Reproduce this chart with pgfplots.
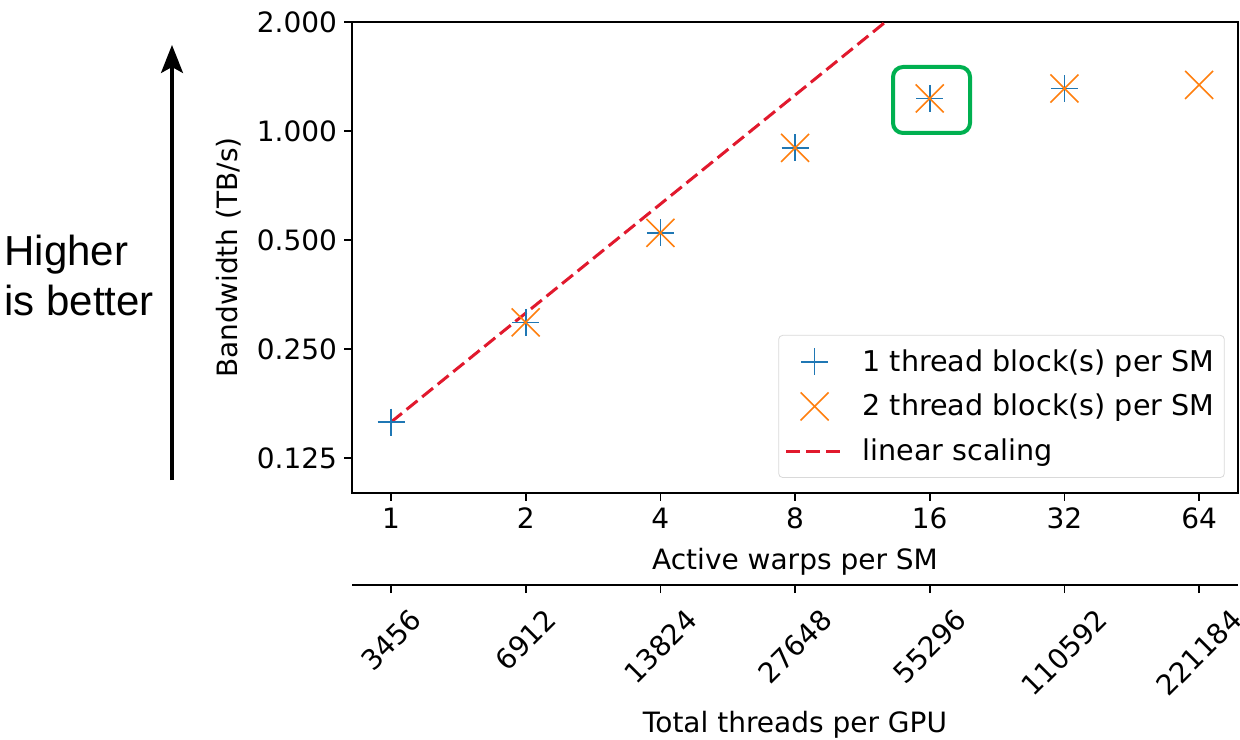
\documentclass[border=0pt]{standalone}
\usepackage{fontspec}
\setmainfont{DejaVu Sans}
\newfontfamily\arial{Liberation Sans}
\usepackage{graphicx}
\usepackage{pgfplots}
\pgfplotsset{compat=1.18}
\usetikzlibrary{arrows.meta}

\definecolor{tabblue}{HTML}{1F77B4}
\definecolor{taborange}{HTML}{FF7F0E}
\definecolor{linred}{RGB}{225,25,45}
\definecolor{boxgreen}{RGB}{0,176,80}

\begin{document}
\begin{tikzpicture}
\useasboundingbox (0,0) rectangle (620pt,369.5pt);

% main axis: bandwidth vs active warps per SM
\begin{axis}[
    at={(176pt,123pt)}, anchor=south west,
    scale only axis, width=443pt, height=235.5pt,
    xmode=log, ymode=log, log basis x=2, log basis y=2,
    xmin=0.818, xmax=78.2, ymin=0.1, ymax=2.0,
    xtick={1,2,4,8,16,32,64},
    xticklabels={1,2,4,8,16,32,64},
    ytick={0.125,0.25,0.5,1,2},
    yticklabels={0.125,0.250,0.500,1.000,2.000},
    minor tick num=0, log ticks with fixed point,
    tick align=outside, tick pos=left,
    major tick length=4pt,
    every tick/.style={black, line width=0.8pt},
    axis line style={line width=0.9pt},
    font=\fontsize{14}{16}\selectfont,
    xlabel={Active warps per SM},
    xlabel style={yshift=-2.5pt},
    ylabel={Bandwidth (TB/s)},
    ylabel style={yshift=1pt},
    legend style={at={(axis description cs:0.985,0.032)}, anchor=south east,
        draw=black!15, rounded corners=2pt, inner xsep=3pt, inner ysep=5pt,
        font=\fontsize{14.3}{16}\selectfont, row sep=6pt,
        /tikz/every odd column/.append style={column sep=7pt}},
    legend cell align=left,
    legend image code/.code={\draw[mark repeat=2,mark phase=2,#1]
        plot coordinates {(0cm,0cm) (0.5cm,0cm) (1cm,0cm)};},
]
\addplot[only marks, mark=+, mark size=6.75pt, tabblue, line width=0.8pt]
    coordinates {(1,0.157) (2,0.296) (4,0.523) (8,0.898) (16,1.23) (32,1.31)};
\addlegendentry{1 thread block(s) per SM}
\addplot[only marks, mark=x, mark size=9.9pt, taborange, line width=0.8pt]
    coordinates {(2,0.296) (4,0.523) (8,0.898) (16,1.23) (32,1.31) (64,1.34)};
\addlegendentry{2 thread block(s) per SM}
\addplot[linred, line width=1.5pt, dash pattern=on 7pt off 3pt]
    coordinates {(1,0.157) (16,2.512)};
\addlegendentry{linear scaling}
\end{axis}

% secondary axis: total threads per GPU
\begin{axis}[
    at={(176pt,77pt)}, anchor=south west,
    scale only axis, width=443pt, height=10pt,
    xmode=log, log basis x=2,
    xmin=0.818, xmax=78.2, ymin=0, ymax=1,
    axis x line*=bottom, axis y line=none,
    xtick={1,2,4,8,16,32,64},
    xticklabels={\rotatebox{45}{3456},\rotatebox{45}{6912},\rotatebox{45}{13824},
        \rotatebox{45}{27648},\rotatebox{45}{55296},\rotatebox{45}{110592},
        \rotatebox{45}{221184}},
    minor tick num=0,
    tick align=outside, major tick length=4pt,
    every tick/.style={black, line width=0.8pt},
    axis line style={line width=0.9pt},
    font=\fontsize{14}{16}\selectfont,
    xticklabel style={anchor=north, inner sep=3pt, yshift=-4pt},
    xlabel={Total threads per GPU},
]
\addplot[draw=none] coordinates {(1,0.5)};
\end{axis}

% annotations
\draw[boxgreen, line width=2pt, rounded corners=5pt]
    (446.5pt,336pt) rectangle (485pt,303pt);
\draw[line width=1.6pt, -{Stealth[length=14pt,width=11pt,inset=3pt]}]
    (86pt,129.5pt) -- (86pt,347pt);
\node[anchor=west, align=left, font=\arial\fontsize{21}{25}\selectfont, inner sep=0pt]
    at (2pt,232pt) {Higher\\is better};
\end{tikzpicture}
\end{document}
